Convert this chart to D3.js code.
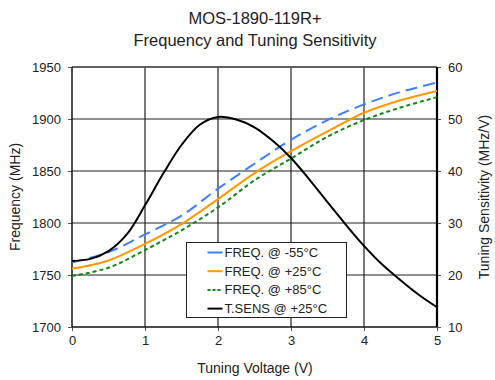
<!DOCTYPE html>
<html>
<head>
<meta charset="utf-8">
<script src="https://d3js.org/d3.v7.min.js"></script>
<style>
  body { margin: 0; background: #fff; }
  text { font-family: "Liberation Sans", Arial, sans-serif; fill: #222; }
</style>
</head>
<body>
<svg id="chart" width="495" height="380"></svg>
<script>
// tuning voltage (V)
var volts = [0, 0.5, 1, 1.5, 2, 2.5, 3, 3.5, 4, 4.5, 5];
// frequency (MHz)
var freqM55 = [1762, 1772, 1789, 1807, 1833, 1857, 1880, 1899, 1914, 1926, 1935];
var freqP25 = [1756, 1764, 1780, 1799, 1823, 1848, 1869, 1888, 1906, 1918, 1927];
var freqP85 = [1749, 1757, 1774, 1793, 1815, 1841, 1862, 1883, 1899, 1911, 1921];
// tuning sensitivity (MHz/V)
var sensV = [0, 0.25, 0.5, 0.75, 1, 1.25, 1.5, 1.75, 2, 2.25, 2.5, 2.75, 3, 3.25, 3.5, 3.75, 4, 4.25, 4.5, 4.75, 5];
var sens  = [22.7, 23.1, 24.6, 27.8, 33.4, 39.5, 45.0, 48.9, 50.4, 49.9, 48.4, 45.8, 42.5, 38.4, 34.0, 29.7, 25.6, 22.0, 19.0, 16.2, 13.8];

var xTicks = [0, 1, 2, 3, 4, 5];
var yTicks = [1700, 1750, 1800, 1850, 1900, 1950];
var y2Ticks = [10, 20, 30, 40, 50, 60];

var series = [
  { name: "FREQ. @ -55\u00B0C", vals: freqM55, color: "#3f7fff", dash: "12,6", legDash: null },
  { name: "FREQ. @ +25\u00B0C", vals: freqP25, color: "#ff9900", dash: null, legDash: null },
  { name: "FREQ. @ +85\u00B0C", vals: freqP85, color: "#118811", dash: "4,3", legDash: "3,2" },
];

var svg = d3.select("#chart");
var L = 72, R = 437, T = 67, B = 327;

var x = d3.scaleLinear().domain([0, 5]).range([L, R]);
var y = d3.scaleLinear().domain([1700, 1950]).range([B, T]);
var y2 = d3.scaleLinear().domain([10, 60]).range([B, T]);

// grid
var grid = svg.append("g").attr("stroke", "#222").attr("stroke-width", 1.2);
grid.selectAll(".gx").data(xTicks.slice(1, -1)).join("line")
  .attr("x1", d => x(d)).attr("x2", d => x(d)).attr("y1", T).attr("y2", B);
grid.selectAll(".gy").data(yTicks.slice(1)).join("line")
  .attr("x1", L).attr("x2", R).attr("y1", d => y(d)).attr("y2", d => y(d));

// axes
var ax = svg.append("g").attr("transform", "translate(0," + B + ")")
  .call(d3.axisBottom(x).tickValues(xTicks).tickSize(4).tickPadding(5).tickFormat(d3.format("d")));
var ay = svg.append("g").attr("transform", "translate(" + L + ",0)")
  .call(d3.axisLeft(y).tickValues(yTicks).tickSize(4).tickPadding(7).tickFormat(d3.format("d")));
var ay2 = svg.append("g").attr("transform", "translate(" + R + ",0)")
  .call(d3.axisRight(y2).tickValues(y2Ticks).tickSize(4).tickPadding(7).tickFormat(d3.format("d")));
[ax, ay, ay2].forEach(g => {
  g.select(".domain").remove();
  g.selectAll(".tick line").attr("stroke", "#555");
  g.selectAll("text").attr("font-size", 13).attr("fill", "#222")
    .attr("font-family", "Liberation Sans, Arial, sans-serif");
});

// frame
svg.append("line").attr("x1", L).attr("x2", R).attr("y1", T).attr("y2", T).attr("stroke", "#555").attr("stroke-width", 1.5);
svg.append("line").attr("x1", L).attr("x2", L).attr("y1", T).attr("y2", B).attr("stroke", "#111").attr("stroke-width", 1.5);
svg.append("line").attr("x1", L).attr("x2", R).attr("y1", B).attr("y2", B).attr("stroke", "#111").attr("stroke-width", 1.5);
svg.append("line").attr("x1", R).attr("x2", R).attr("y1", T).attr("y2", B).attr("stroke", "#000").attr("stroke-width", 2.2);

// lines
var line = d3.line().x(d => x(d[0])).y(d => y(d[1])).curve(d3.curveCatmullRom);
series.forEach(s => {
  svg.append("path").attr("d", line(volts.map((v, i) => [v, s.vals[i]])))
    .attr("fill", "none").attr("stroke", s.color).attr("stroke-width", 2)
    .attr("stroke-dasharray", s.dash);
});
var line2 = d3.line().x(d => x(d[0])).y(d => y2(d[1])).curve(d3.curveCatmullRom);
svg.append("path").attr("d", line2(sensV.map((v, i) => [v, sens[i]])))
  .attr("fill", "none").attr("stroke", "#000").attr("stroke-width", 2);

// legend
var leg = svg.append("g").attr("transform", "translate(186.5,242.5)");
leg.append("rect").attr("width", 160).attr("height", 75).attr("fill", "#fff").attr("stroke", "#222").attr("stroke-width", 1);
var items = series.concat([{ name: "T.SENS @ +25\u00B0C", color: "#000", legDash: null }]);
items.forEach((s, i) => {
  var yy = 10 + i * 18.7;
  leg.append("line").attr("x1", 21).attr("x2", 36).attr("y1", yy).attr("y2", yy)
    .attr("stroke", s.color).attr("stroke-width", 2).attr("stroke-dasharray", s.legDash);
  leg.append("text").attr("x", 38).attr("y", yy + 4.5).attr("font-size", 13).text(s.name);
});

// titles
svg.append("text").attr("x", 255).attr("y", 24).attr("text-anchor", "middle").attr("font-size", 16.5).text("MOS-1890-119R+");
svg.append("text").attr("x", 255).attr("y", 46).attr("text-anchor", "middle").attr("font-size", 16.5).text("Frequency and Tuning Sensitivity");
svg.append("text").attr("x", 255).attr("y", 373).attr("text-anchor", "middle").attr("font-size", 14).text("Tuning Voltage (V)");
svg.append("text").attr("transform", "translate(20," + ((T + B) / 2) + ") rotate(-90)")
  .attr("text-anchor", "middle").attr("font-size", 14).text("Frequency (MHz)");
svg.append("text").attr("transform", "translate(489," + ((T + B) / 2) + ") rotate(-90)")
  .attr("text-anchor", "middle").attr("font-size", 14).text("Tuning Sensitivity (MHz/V)");
</script>
</body>
</html>
